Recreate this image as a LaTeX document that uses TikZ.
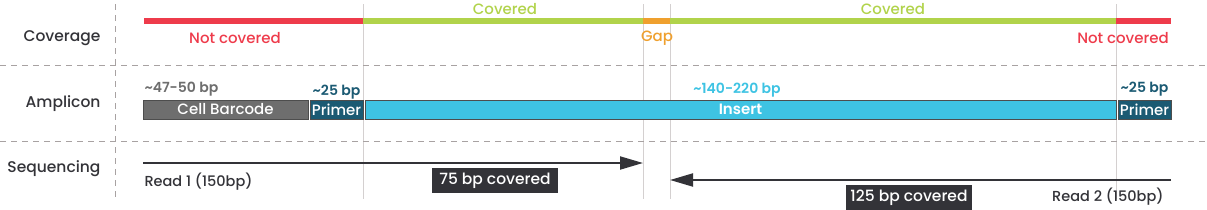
\documentclass[tikz,border=0pt]{standalone}
\usepackage{fontspec}
\setmainfont{Poppins}[UprightFont=* Medium,BoldFont=* SemiBold]
\usepackage{xcolor}
\usetikzlibrary{arrows.meta,positioning}
\definecolor{CovRed}{HTML}{EE3B4B}
\definecolor{CovGreen}{HTML}{B1D34B}
\definecolor{CovOrange}{HTML}{EFA02E}
\definecolor{InsertCyan}{HTML}{3EC3E3}
\definecolor{PrimerTeal}{HTML}{1B5A73}
\definecolor{BarcodeGray}{HTML}{6E6E6E}
\definecolor{Ink}{HTML}{333338}
\definecolor{GuideGray}{HTML}{D4D0D0}
\definecolor{DashGray}{HTML}{A8A2A2}

\begin{document}
\begin{tikzpicture}[x=1pt,y=-1pt,
  rowlabel/.style={font=\fontsize{15.5}{17}\selectfont,text=Ink,anchor=east},
  seg/.style={line width=6pt},
  tag/.style={font=\fontsize{15}{17}\selectfont},
  lentag/.style={font=\fontsize{14}{16}\selectfont\bfseries},
  readtag/.style={font=\fontsize{14.5}{16}\selectfont,text=Ink},
  part/.style={draw=BarcodeGray!70!black,line width=1pt,minimum height=19pt,inner sep=0pt,text=white,font=\fontsize{15}{17}\selectfont},
  covbox/.style={fill=Ink,text=white,inner sep=0pt,minimum height=25pt,font=\fontsize{15.5}{17}\selectfont},
  guide/.style={draw=GuideGray,line width=0.8pt},
  divider/.style={draw=DashGray,line width=0.9pt,dash pattern=on 6pt off 5pt},
  arr/.style={-{Triangle[length=23pt,width=13pt]},line width=2pt,draw=Ink}
]
\useasboundingbox (0,0) rectangle (1207,209);

% guides
\coordinate (g0t) at (363,4);   \coordinate (g0b) at (363,199);
\coordinate (g1t) at (643,4);   \coordinate (g1b) at (643,199);
\coordinate (g2t) at (670,4);   \coordinate (g2b) at (670,199);
\coordinate (g3t) at (1116,4);  \coordinate (g3b) at (1116,199);
\foreach \g in {g0,g1,g2,g3} \draw[guide] (\g t) -- (\g b);

% dividers
\coordinate (vt) at (115,4); \coordinate (vb) at (115,200);
\coordinate (h1l) at (0,65);  \coordinate (h1r) at (1207,65);
\coordinate (h2l) at (0,141); \coordinate (h2r) at (1207,141);
\draw[divider] (vt) -- (vb);
\draw[divider] (h1l) -- (h1r);
\draw[divider] (h2l) -- (h2r);

% row labels
\node[rowlabel] (lcov) at (104,38) {Coverage};
\node[rowlabel] (lamp) at (104,104) {Amplicon};
\node[rowlabel] (lseq) at (104,169) {Sequencing};

% coverage
\coordinate (c0) at (144,21);
\coordinate (c1) at (363,21);
\coordinate (c2) at (643,21);
\coordinate (c3) at (670,21);
\coordinate (c4) at (1116,21);
\coordinate (c5) at (1171,21);
\draw[seg,CovRed] (c0) -- (c1);
\draw[seg,CovGreen] (c1) -- (c2);
\draw[seg,CovOrange] (c2) -- (c3);
\draw[seg,CovGreen] (c3) -- (c4);
\draw[seg,CovRed] (c4) -- (c5);
\node[tag,text=CovRed] (nc1) at (235,38) {Not covered};
\node[tag,text=CovGreen] (cv1) at (505,9) {Covered};
\node[tag,text=CovOrange] (gap) at (657,38) {Gap};
\node[tag,text=CovGreen] (cv2) at (893,9) {Covered};
\node[tag,text=CovRed] (nc2) at (1123,38) {Not covered};

% amplicon
\node[part,fill=BarcodeGray,minimum width=165pt] (barcode) at (225.5,109.5) {Cell Barcode};
\node[part,fill=PrimerTeal,minimum width=53pt] (primer1) at (336.5,109.5) {Primer};
\node[part,fill=InsertCyan,minimum width=751pt,font=\fontsize{15}{17}\selectfont\bfseries] (insert) at (740.5,109.5) {Insert};
\node[part,fill=PrimerTeal,minimum width=53pt] (primer2) at (1144.5,109.5) {Primer};
\node[lentag,text=BarcodeGray,anchor=south west] (lenbc) at (141,100) {\textasciitilde47-50 bp};
\node[lentag,text=PrimerTeal,anchor=south] (lenp1) at (336.5,103) {\textasciitilde25 bp};
\node[lentag,text=InsertCyan,anchor=south] (lenin) at (737,101) {\textasciitilde140-220 bp};
\node[lentag,text=PrimerTeal,anchor=south] (lenp2) at (1144.5,100) {\textasciitilde25 bp};

% sequencing
\coordinate (r1s) at (143,163); \coordinate (r1e) at (643,163);
\coordinate (r2s) at (1171,180); \coordinate (r2e) at (670,180);
\draw[arr] (r1s) -- (r1e);
\draw[arr] (r2s) -- (r2e);
\node[readtag,anchor=north west] (read1) at (141,169) {Read 1 (150bp)};
\node[readtag,anchor=north east] (read2) at (1167,184) {Read 2 (150bp)};
\node[covbox,minimum width=126pt] (cov75) at (495,180.5) {75 bp covered};
\node[covbox,minimum width=126pt] (cov125) at (909,197.5) {125 bp covered};
\end{tikzpicture}
\end{document}
